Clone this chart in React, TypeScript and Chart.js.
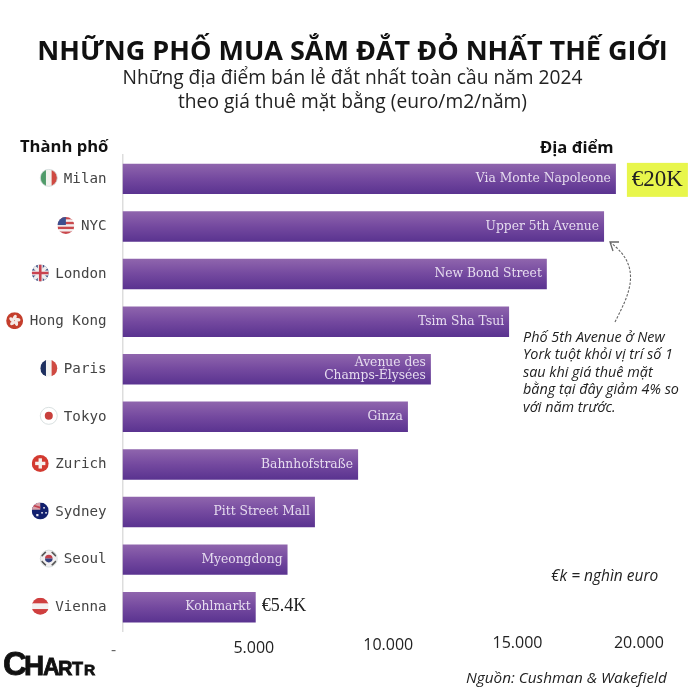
import React, { useEffect, useRef } from "react";
import { Chart, registerables } from "chart.js";

Chart.register(...registerables);

const cities = ["Milan", "NYC", "London", "Hong Kong", "Paris", "Tokyo", "Zurich", "Sydney", "Seoul", "Vienna"];
const rents = [20000, 19520, 17200, 15670, 12500, 11570, 9550, 7800, 6690, 5400];
const streets = [
  ["Via Monte Napoleone"],
  ["Upper 5th Avenue"],
  ["New Bond Street"],
  ["Tsim Sha Tsui"],
  ["Avenue des", "Champs-Élysées"],
  ["Ginza"],
  ["Bahnhofstraße"],
  ["Pitt Street Mall"],
  ["Myeongdong"],
  ["Kohlmarkt"],
];
const flagCodes = ["it", "us", "gb", "hk", "fr", "jp", "ch", "au", "kr", "at"];
const tickValues = [0, 5000, 10000, 15000, 20000];
const tickLabels = ["-", "5.000", "10.000", "15.000", "20.000"];
const tickNudgeX = [-9, 8, 19, 25, 23];
const tickNudgeY = [650, 648, 645, 643, 643];
const noteLines = [
  "Phố 5th Avenue ở New",
  "York tuột khỏi vị trí số 1",
  "sau khi giá thuê mặt",
  "bằng tại đây giảm 4% so",
  "với năm trước.",
];
const logoLetters = ["C", "H", "A", "R", "T", "R"];
const logoSizes = [33, 28, 23, 20, 18, 15.5];
const logoXs = [3, 24, 43, 58, 72, 84];

const SANS = '"Open Sans"';

function stripes(ctx: CanvasRenderingContext2D, cx: number, cy: number, r: number, colors: string[], vertical: boolean) {
  const n = colors.length;
  colors.forEach((c, i) => {
    ctx.fillStyle = c;
    if (vertical) ctx.fillRect(cx - r + (2 * r * i) / n, cy - r, (2 * r) / n + 0.5, 2 * r);
    else ctx.fillRect(cx - r, cy - r + (2 * r * i) / n, 2 * r, (2 * r) / n + 0.5);
  });
}

function line(ctx: CanvasRenderingContext2D, x1: number, y1: number, x2: number, y2: number, c: string, w: number) {
  ctx.strokeStyle = c;
  ctx.lineWidth = w;
  ctx.beginPath();
  ctx.moveTo(x1, y1);
  ctx.lineTo(x2, y2);
  ctx.stroke();
}

function drawFlag(ctx: CanvasRenderingContext2D, code: string, cx: number, cy: number, r: number) {
  ctx.save();
  ctx.beginPath();
  ctx.arc(cx, cy, r, 0, Math.PI * 2);
  ctx.clip();
  ctx.fillStyle = "#ffffff";
  ctx.fillRect(cx - r, cy - r, 2 * r, 2 * r);
  if (code === "it") stripes(ctx, cx, cy, r, ["#4f9a68", "#f2f2ee", "#cf4a42"], true);
  if (code === "fr") stripes(ctx, cx, cy, r, ["#1d2f5f", "#f4f4f2", "#cf4a42"], true);
  if (code === "at") stripes(ctx, cx, cy, r, ["#cf3f3f", "#f4f0f0", "#cf3f3f"], false);
  if (code === "us") {
    stripes(ctx, cx, cy, r, ["#c9494d", "#f3eeee", "#c9494d", "#f3eeee", "#c9494d", "#f3eeee", "#c9494d"], false);
    ctx.fillStyle = "#3d4f8f";
    ctx.fillRect(cx - r, cy - r, r, r * 0.95);
  }
  if (code === "gb") {
    ctx.fillStyle = "#3a4a80";
    ctx.fillRect(cx - r, cy - r, 2 * r, 2 * r);
    line(ctx, cx - r, cy - r, cx + r, cy + r, "#eeeeee", 3.5);
    line(ctx, cx - r, cy + r, cx + r, cy - r, "#eeeeee", 3.5);
    line(ctx, cx - r, cy, cx + r, cy, "#eeeeee", 5);
    line(ctx, cx, cy - r, cx, cy + r, "#eeeeee", 5);
    line(ctx, cx - r, cy, cx + r, cy, "#c9424f", 2.6);
    line(ctx, cx, cy - r, cx, cy + r, "#c9424f", 2.6);
  }
  if (code === "hk") {
    ctx.fillStyle = "#c43e2c";
    ctx.fillRect(cx - r, cy - r, 2 * r, 2 * r);
    ctx.fillStyle = "#f5e9e5";
    for (let i = 0; i < 5; i++) {
      const a = (i * 2 * Math.PI) / 5 - Math.PI / 2;
      ctx.beginPath();
      ctx.ellipse(cx + Math.cos(a) * 3, cy + Math.sin(a) * 3, 3, 1.7, a + 0.5, 0, Math.PI * 2);
      ctx.fill();
    }
  }
  if (code === "jp") {
    ctx.fillStyle = "#c8403c";
    ctx.beginPath();
    ctx.arc(cx, cy, r * 0.47, 0, Math.PI * 2);
    ctx.fill();
  }
  if (code === "ch") {
    ctx.fillStyle = "#d33a30";
    ctx.fillRect(cx - r, cy - r, 2 * r, 2 * r);
    ctx.fillStyle = "#f6f1ee";
    ctx.fillRect(cx - r * 0.6, cy - r * 0.2, r * 1.2, r * 0.4);
    ctx.fillRect(cx - r * 0.2, cy - r * 0.6, r * 0.4, r * 1.2);
  }
  if (code === "au") {
    ctx.fillStyle = "#12206e";
    ctx.fillRect(cx - r, cy - r, 2 * r, 2 * r);
    ctx.fillStyle = "#d8a0a8";
    ctx.fillRect(cx - r, cy - r, r, r * 0.85);
    line(ctx, cx - r, cy - 0.7 * r, cx, cy - 0.4 * r, "#c2404f", 1.6);
    ctx.fillStyle = "#e8e8f2";
    ctx.fillRect(cx + 3, cy - 4, 1.6, 1.6);
    ctx.fillRect(cx + 1, cy + 1, 1.6, 1.6);
    ctx.fillRect(cx + 5, cy + 1, 1.6, 1.6);
    ctx.fillRect(cx - 4, cy + 3, 2.2, 2.2);
  }
  if (code === "kr") {
    ctx.fillStyle = "#f1eff0";
    ctx.fillRect(cx - r, cy - r, 2 * r, 2 * r);
    ctx.fillStyle = "#c0404c";
    ctx.beginPath();
    ctx.arc(cx, cy, r * 0.45, Math.PI, 0);
    ctx.fill();
    ctx.fillStyle = "#33407f";
    ctx.beginPath();
    ctx.arc(cx, cy, r * 0.45, 0, Math.PI);
    ctx.fill();
    line(ctx, cx - r * 0.85, cy - r * 0.3, cx - r * 0.35, cy - r * 0.8, "#555", 1.6);
    line(ctx, cx + r * 0.85, cy + r * 0.3, cx + r * 0.35, cy + r * 0.8, "#555", 1.6);
    line(ctx, cx + r * 0.85, cy - r * 0.3, cx + r * 0.35, cy - r * 0.8, "#555", 1.6);
    line(ctx, cx - r * 0.85, cy + r * 0.3, cx - r * 0.35, cy + r * 0.8, "#555", 1.6);
  }
  ctx.restore();
  if (code === "jp" || code === "kr" || code === "it") {
    ctx.strokeStyle = "#cfd8d8";
    ctx.lineWidth = 0.8;
    ctx.beginPath();
    ctx.arc(cx, cy, r, 0, Math.PI * 2);
    ctx.stroke();
  }
}

const overlay = {
  id: "overlay",
  afterDraw(chart: any) {
    const ctx: CanvasRenderingContext2D = chart.ctx;
    const bars = chart.getDatasetMeta(0).data;
    const x = chart.scales.x;
    const y = chart.scales.y;
    ctx.save();
    ctx.textBaseline = "middle";

    // street names inside the bars
    ctx.textAlign = "right";
    ctx.fillStyle = "#e6dcef";
    ctx.font = '12.3px "DejaVu Serif"';
    bars.forEach((b: any, i: number) => {
      const ls = streets[i];
      ls.forEach((s, j) => {
        ctx.fillText(s, b.x - 5, b.y + (j - (ls.length - 1) / 2) * 13);
      });
    });

    // flags beside the city labels
    ctx.font = '14.2px "DejaVu Sans Mono"';
    cities.forEach((c, i) => {
      const w = ctx.measureText(c).width;
      drawFlag(ctx, flagCodes[i], 107 - w - 15.5, y.getPixelForValue(i) - 1, 8.5);
    });

    // value callouts
    const top = bars[0];
    ctx.fillStyle = "#e8f64c";
    ctx.fillRect(top.x + 11, top.y - 16, 61, 34);
    ctx.fillStyle = "#222222";
    ctx.textAlign = "center";
    ctx.font = '23px "Liberation Serif"';
    ctx.fillText("€20K", top.x + 41.5, top.y + 1);
    const last = bars[bars.length - 1];
    ctx.textAlign = "left";
    ctx.font = '18px "Liberation Serif"';
    ctx.fillText("€5.4K", last.x + 6, last.y - 1);

    // axis numbers
    ctx.fillStyle = "#222222";
    ctx.textAlign = "center";
    ctx.font = `16px ${SANS}`;
    tickValues.forEach((v, i) => {
      ctx.fillStyle = i === 0 ? "#666666" : "#222222";
      ctx.fillText(tickLabels[i], x.getPixelForValue(v) + tickNudgeX[i], tickNudgeY[i]);
    });

    // column headers
    ctx.fillStyle = "#111111";
    ctx.font = `bold 16.6px ${SANS}`;
    ctx.textAlign = "left";
    ctx.fillText("Thành phố", 20, 147);
    ctx.fillText("Địa điểm", 540, 148);

    // annotation
    ctx.fillStyle = "#222222";
    ctx.font = `italic 14.4px ${SANS}`;
    noteLines.forEach((t, i) => ctx.fillText(t, 523, 338 + i * 17.4));
    ctx.font = `italic 15.5px ${SANS}`;
    ctx.fillText("€k = nghìn euro", 551, 577);
    ctx.font = `italic 15.3px ${SANS}`;
    ctx.fillText("Nguồn: Cushman & Wakefield", 466, 679);

    // dashed arrow to NYC
    ctx.strokeStyle = "#666666";
    ctx.lineWidth = 1.1;
    ctx.setLineDash([2.5, 1.5]);
    ctx.beginPath();
    ctx.moveTo(615, 322);
    ctx.bezierCurveTo(628, 296, 644, 268, 611, 243);
    ctx.stroke();
    ctx.setLineDash([]);
    ctx.lineWidth = 1.3;
    ctx.beginPath();
    ctx.moveTo(619, 242);
    ctx.lineTo(610, 242);
    ctx.lineTo(613, 251);
    ctx.stroke();

    // logo
    ctx.fillStyle = "#111111";
    ctx.strokeStyle = "#111111";
    ctx.textBaseline = "alphabetic";
    ctx.lineWidth = 0.8;
    logoLetters.forEach((l, i) => {
      ctx.font = `bold ${logoSizes[i]}px "Liberation Sans"`;
      ctx.fillText(l, logoXs[i], 675);
      ctx.strokeText(l, logoXs[i], 675);
    });
    ctx.restore();
  },
};

export default function App() {
  const ref = useRef<HTMLCanvasElement>(null);
  useEffect(() => {
    const chart = new Chart(ref.current as HTMLCanvasElement, {
      type: "bar",
      data: {
        labels: cities,
        datasets: [
          {
            data: rents,
            barPercentage: 0.64,
            categoryPercentage: 1,
            borderWidth: 0,
            backgroundColor: (c: any) => {
              if (c.type !== "data") return "#6f4a9c";
              const yc = c.chart.scales.y ? c.chart.scales.y.getPixelForValue(c.dataIndex) : NaN;
              if (!Number.isFinite(yc)) return "#6f4a9c";
              const g = c.chart.ctx.createLinearGradient(0, yc - 15, 0, yc + 15);
              g.addColorStop(0, "#8f65ad");
              g.addColorStop(0.5, "#74499f");
              g.addColorStop(1, "#5a3390");
              return g;
            },
          },
        ],
      },
      options: {
        indexAxis: "y",
        responsive: false,
        animation: false,
        layout: { padding: { left: 5, right: 0, top: 0, bottom: 0 } },
        plugins: {
          legend: { display: false },
          tooltip: { enabled: false },
          title: {
            display: true,
            text: "NHỮNG PHỐ MUA SẮM ĐẮT ĐỎ NHẤT THẾ GIỚI",
            color: "#111111",
            font: { family: SANS, size: 27, weight: "bold", lineHeight: 1 },
            padding: { top: 38.5, bottom: 0 },
          },
          subtitle: {
            display: true,
            text: ["Những địa điểm bán lẻ đắt nhất toàn cầu năm 2024", "theo giá thuê mặt bằng (euro/m2/năm)"],
            color: "#222222",
            font: { family: SANS, size: 19.2, weight: "normal", lineHeight: 1.2 },
            padding: { top: 2, bottom: 41.5 },
          },
        },
        scales: {
          x: {
            type: "linear",
            min: 0,
            max: 23409,
            grid: { display: false },
            border: { display: false },
            ticks: { display: false, stepSize: 5000 },
            afterFit: (s: any) => {
              s.height = 69;
            },
          },
          y: {
            type: "category",
            grid: { display: false },
            border: { display: true, color: "#dddddd", width: 1.5 },
            ticks: {
              color: "#444444",
              padding: 8,
              font: { family: "DejaVu Sans Mono", size: 14.2 },
              autoSkip: false,
            },
            afterFit: (s: any) => {
              s.width = 117.5;
            },
          },
        },
      },
      plugins: [overlay],
    } as any);
    return () => chart.destroy();
  }, []);
  return (
    <div style={{ position: "absolute", left: 0, top: 0, width: 700, height: 700, background: "#fff" }}>
      <canvas ref={ref} width={700} height={700} style={{ display: "block" }} />
    </div>
  );
}
